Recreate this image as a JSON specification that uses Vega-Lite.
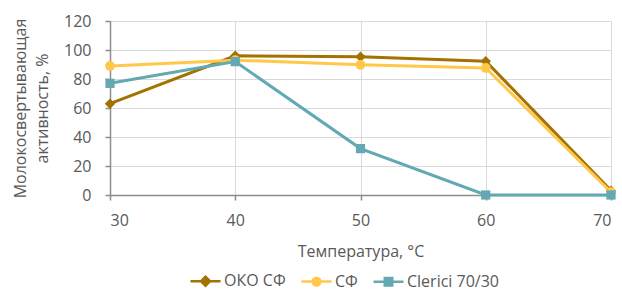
{
  "$schema": "https://vega.github.io/schema/vega-lite/v6.json",
  "width": 501,
  "height": 174,
  "autosize": {"type": "none"},
  "padding": {"left": 110, "top": 21, "right": 11, "bottom": 95},
  "background": "white",
  "config": {
    "font": "Open Sans",
    "view": {"stroke": null},
    "axis": {
      "labelFont": "Open Sans",
      "titleFont": "Open Sans",
      "labelFontSize": 16,
      "titleFontSize": 16,
      "titleFontWeight": "normal",
      "labelColor": "#595959",
      "titleColor": "#595959",
      "gridColor": "#d9d9d9",
      "gridWidth": 1,
      "domainColor": "#8c8c8c",
      "domainWidth": 1.5,
      "tickColor": "#8c8c8c",
      "tickWidth": 1.5,
      "tickSize": 5
    },
    "legend": {
      "labelFont": "Open Sans",
      "labelFontSize": 16,
      "labelColor": "#595959"
    }
  },
  "data": {
    "values": [
      {"t": 30, "s": "ОКО СФ", "v": 63},
      {"t": 40, "s": "ОКО СФ", "v": 96},
      {"t": 50, "s": "ОКО СФ", "v": 95.3},
      {"t": 60, "s": "ОКО СФ", "v": 92.3},
      {"t": 70, "s": "ОКО СФ", "v": 3},
      {"t": 30, "s": "СФ", "v": 89},
      {"t": 40, "s": "СФ", "v": 93},
      {"t": 50, "s": "СФ", "v": 89.8},
      {"t": 60, "s": "СФ", "v": 87.6},
      {"t": 70, "s": "СФ", "v": 2},
      {"t": 30, "s": "Clerici 70/30", "v": 77},
      {"t": 40, "s": "Clerici 70/30", "v": 92},
      {"t": 50, "s": "Clerici 70/30", "v": 32},
      {"t": 60, "s": "Clerici 70/30", "v": 0},
      {"t": 70, "s": "Clerici 70/30", "v": 0}
    ]
  },
  "encoding": {
    "x": {
      "field": "t",
      "type": "quantitative",
      "scale": {"domain": [30, 70], "nice": false, "zero": false},
      "axis": {
        "title": "Температура, °C",
        "values": [30, 40, 50, 60, 70],
        "labelPadding": 12,
        "titlePadding": 15
      }
    },
    "y": {
      "field": "v",
      "type": "quantitative",
      "scale": {"domain": [0, 120], "nice": false},
      "axis": {
        "title": ["Молокосвертывающая", "активность, %"],
        "values": [0, 20, 40, 60, 80, 100, 120],
        "labelPadding": 14,
        "titlePadding": 13,
        "titleLineHeight": 22
      }
    },
    "color": {
      "field": "s",
      "type": "nominal",
      "scale": {
        "domain": ["ОКО СФ", "СФ", "Clerici 70/30"],
        "range": ["#A37300", "#FFC84A", "#62A9B3"]
      }
    }
  },
  "layer": [
    {
      "mark": {"type": "line", "strokeWidth": 3},
      "encoding": {
        "color": {
          "field": "s",
          "type": "nominal",
          "legend": {
            "title": null,
            "orient": "none",
            "direction": "horizontal",
            "legendX": 79,
            "legendY": 251,
            "symbolSize": 225,
            "symbolStrokeWidth": 2.5,
            "labelOffset": 17,
            "columnPadding": 10,
            "encode": {
              "symbols": {
                "update": {
                  "shape": {"signal": "datum.value === 'ОКО СФ' ? 'M-1,0H3M1,-0.6L1.6,0L1,0.6L0.4,0Z' : datum.value === 'СФ' ? 'M-1,0H3M0.48,0A0.52,0.52,0,1,0,1.52,0A0.52,0.52,0,1,0,0.48,0Z' : 'M-1,0H3M0.5,-0.5H1.5V0.5H0.5Z'"},
                  "fill": {"signal": "scale('color', datum.value)"},
                  "fillOpacity": {"value": 1}
                }
              }
            }
          }
        },
        "detail": {"field": "s"}
      }
    },
    {
      "transform": [{"filter": "datum.s === 'ОКО СФ'"}],
      "mark": {"type": "point", "filled": true, "opacity": 1, "shape": "diamond", "size": 110}
    },
    {
      "transform": [{"filter": "datum.s === 'СФ'"}],
      "mark": {"type": "point", "filled": true, "opacity": 1, "shape": "circle", "size": 95}
    },
    {
      "transform": [{"filter": "datum.s === 'Clerici 70/30'"}],
      "mark": {"type": "point", "filled": true, "opacity": 1, "shape": "square", "size": 85}
    }
  ]
}
